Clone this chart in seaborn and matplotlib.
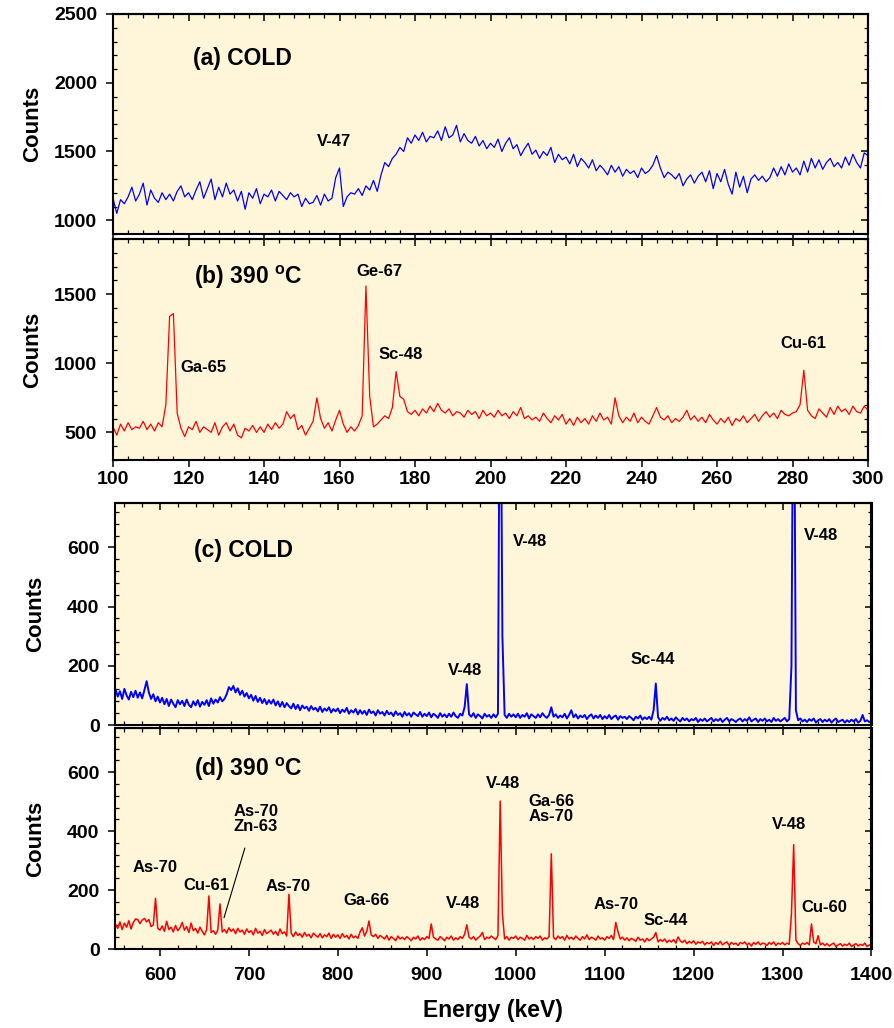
import numpy as np
import matplotlib
matplotlib.use('Agg')
import matplotlib.pyplot as plt
from matplotlib.ticker import MultipleLocator
import seaborn as sns

# canales de energía (keV)
energia_baja = np.arange(100, 300.5, 1.0)
energia_alta = np.arange(550, 1400.5, 2.5)

# (a) COLD, 100-300 keV
cuentas_a = [
    1160, 1050, 1150, 1120, 1170, 1240, 1140, 1190, 1270, 1110,
    1220, 1160, 1130, 1200, 1150, 1190, 1140, 1210, 1250, 1170,
    1200, 1150, 1220, 1280, 1160, 1230, 1300, 1150, 1240, 1170,
    1270, 1190, 1220, 1140, 1210, 1080, 1200, 1160, 1230, 1120,
    1190, 1170, 1220, 1140, 1210, 1180, 1150, 1200, 1170, 1190,
    1100, 1160, 1120, 1130, 1180, 1110, 1190, 1140, 1160, 1310,
    1380, 1100, 1170, 1200, 1190, 1230, 1180, 1250, 1220, 1290,
    1210, 1330, 1420, 1390, 1450, 1480, 1530, 1500, 1600, 1560,
    1620, 1580, 1640, 1570, 1610, 1600, 1650, 1580, 1680, 1600,
    1620, 1690, 1570, 1630, 1580, 1560, 1610, 1540, 1580, 1520,
    1560, 1530, 1590, 1500, 1560, 1600, 1520, 1550, 1470, 1520,
    1560, 1480, 1510, 1450, 1500, 1470, 1530, 1420, 1480, 1440,
    1460, 1410, 1480, 1390, 1450, 1420, 1380, 1440, 1360, 1400,
    1370, 1330, 1400, 1350, 1390, 1320, 1370, 1340, 1360, 1310,
    1380, 1340, 1360, 1400, 1470, 1380, 1310, 1350, 1330, 1300,
    1340, 1250, 1300, 1330, 1270, 1320, 1350, 1280, 1360, 1230,
    1340, 1280, 1370, 1260, 1190, 1350, 1240, 1320, 1200, 1300,
    1330, 1290, 1320, 1280, 1310, 1380, 1320, 1390, 1330, 1410,
    1350, 1380, 1330, 1430, 1350, 1450, 1380, 1440, 1370, 1420,
    1450, 1390, 1420, 1380, 1460, 1400, 1480, 1420, 1380, 1490,
    1470]

# (b) 390 C, 100-300 keV
cuentas_b = [
    540, 480, 560, 510, 570, 520, 540, 530, 580, 520,
    560, 510, 570, 540, 700, 1340, 1360, 640, 530, 470,
    540, 520, 580, 500, 540, 520, 500, 570, 480, 540,
    570, 510, 560, 480, 460, 530, 510, 550, 500, 540,
    500, 560, 520, 570, 530, 560, 650, 600, 630, 520,
    550, 480, 530, 580, 750, 600, 530, 570, 510, 590,
    660, 560, 500, 540, 510, 550, 620, 1560, 760, 540,
    560, 590, 620, 600, 680, 940, 760, 740, 650, 630,
    660, 620, 670, 640, 690, 650, 710, 660, 640, 670,
    620, 650, 640, 610, 660, 630, 650, 600, 660, 620,
    640, 610, 660, 620, 640, 600, 650, 620, 680, 600,
    620, 590, 610, 580, 640, 600, 570, 620, 590, 630,
    560, 600, 550, 610, 570, 600, 560, 620, 580, 640,
    590, 610, 560, 750, 620, 570, 610, 580, 640, 570,
    610, 580, 560, 620, 680, 610, 590, 620, 570, 600,
    580, 610, 660, 590, 620, 580, 610, 570, 630, 590,
    560, 600, 570, 610, 550, 600, 580, 620, 570, 600,
    630, 580, 620, 650, 610, 640, 600, 660, 630, 620,
    640, 650, 700, 950, 660, 620, 600, 670, 640, 610,
    680, 630, 690, 650, 670, 630, 690, 650, 640, 690,
    660]

# (c) COLD, 550-1400 keV
cuentas_c = [
    120, 96, 114, 88, 122, 100, 86, 112, 94, 116,
    92, 110, 90, 118, 148, 110, 88, 104, 80, 96,
    76, 92, 70, 88, 64, 86, 72, 60, 84, 70,
    82, 64, 86, 68, 60, 80, 66, 84, 62, 78,
    68, 84, 64, 90, 72, 86, 76, 94, 80, 88,
    104, 128, 118, 132, 110, 124, 102, 116, 96, 108,
    90, 102, 82, 98, 78, 92, 74, 88, 70, 84,
    72, 86, 66, 80, 62, 78, 60, 74, 64, 56,
    72, 54, 68, 50, 66, 56, 62, 48, 64, 52,
    58, 46, 62, 44, 56, 48, 60, 42, 54, 46,
    56, 40, 52, 44, 58, 38, 50, 42, 54, 36,
    50, 38, 48, 34, 52, 40, 46, 32, 50, 38,
    44, 32, 48, 36, 42, 30, 46, 34, 40, 28,
    44, 32, 40, 28, 42, 36, 30, 44, 28, 38,
    30, 42, 26, 38, 32, 24, 40, 28, 36, 26,
    38, 28, 42, 30, 24, 38, 32, 60, 138, 36,
    28, 40, 24, 36, 30, 22, 38, 28, 34, 24,
    36, 26, 38, 1500, 300, 34, 24, 38, 28, 36,
    26, 38, 24, 34, 28, 40, 22, 36, 30, 24,
    36, 26, 40, 30, 24, 34, 60, 28, 36, 24,
    32, 26, 38, 22, 34, 50, 26, 36, 22, 32,
    26, 34, 20, 30, 36, 22, 32, 24, 34, 20,
    30, 22, 34, 20, 28, 32, 18, 30, 24, 28,
    20, 30, 24, 16, 28, 22, 32, 18, 26, 20,
    28, 18, 50, 140, 26, 14, 24, 18, 28, 16,
    22, 14, 26, 18, 12, 24, 16, 22, 12, 20,
    16, 24, 10, 20, 14, 22, 12, 18, 24, 12,
    20, 14, 22, 10, 18, 24, 12, 20, 16, 10,
    18, 22, 12, 20, 14, 26, 12, 18, 22, 10,
    20, 14, 22, 12, 18, 10, 24, 14, 20, 12,
    18, 24, 12, 20, 200, 1500, 50, 16, 22, 12,
    18, 10, 20, 14, 22, 8, 16, 20, 10, 18,
    12, 20, 8, 16, 22, 10, 14, 18, 8, 16,
    10, 18, 12, 20, 8, 14, 34, 12, 16, 10,
    14]

# (d) 390 C, 550-1400 keV
cuentas_d = [
    84, 70, 92, 66, 88, 74, 96, 68, 90, 102,
    100, 86, 98, 104, 92, 100, 76, 82, 172, 70,
    64, 78, 60, 94, 66, 74, 58, 80, 62, 72,
    90, 64, 76, 56, 88, 62, 70, 54, 74, 60,
    48, 66, 180, 56, 62, 50, 64, 153, 58, 66,
    54, 72, 60, 68, 52, 70, 58, 64, 50, 68,
    56, 62, 48, 70, 54, 60, 46, 66, 52, 58,
    64, 50, 60, 46, 68, 52, 58, 44, 186, 54,
    42, 58, 46, 52, 40, 56, 44, 50, 38, 54,
    46, 40, 52, 38, 48, 42, 54, 36, 50, 40,
    48, 36, 52, 40, 46, 34, 50, 38, 44, 36,
    58, 72, 44, 60, 95, 48, 42, 50, 36, 46,
    40, 34, 46, 30, 42, 36, 28, 44, 34, 40,
    32, 42, 36, 28, 40, 34, 44, 30, 38, 32,
    42, 36, 85, 40, 34, 30, 42, 36, 28, 40,
    34, 44, 30, 38, 32, 42, 36, 50, 82, 40,
    34, 42, 30, 38, 44, 56, 32, 40, 36, 44,
    38, 32, 46, 502, 120, 34, 42, 30, 40, 36,
    44, 32, 40, 36, 30, 46, 34, 40, 32, 42,
    36, 44, 30, 38, 34, 42, 323, 40, 32, 44,
    36, 42, 30, 46, 34, 40, 32, 44, 36, 30,
    42, 34, 48, 32, 40, 36, 30, 44, 34, 38,
    30, 42, 36, 46, 32, 90, 58, 34, 40, 30,
    38, 28, 36, 32, 26, 40, 30, 34, 24, 36,
    28, 34, 40, 56, 24, 32, 26, 34, 22, 30,
    24, 32, 20, 41, 28, 22, 30, 18, 26, 20,
    28, 16, 24, 20, 26, 14, 22, 18, 24, 12,
    22, 16, 26, 14, 20, 24, 12, 22, 16, 20,
    12, 22, 18, 24, 14, 20, 10, 22, 16, 24,
    14, 20, 18, 12, 22, 16, 24, 12, 20, 16,
    22, 14, 20, 16, 120, 354, 30, 18, 12, 20,
    16, 22, 14, 85, 24, 18, 45, 14, 20, 12,
    18, 10, 16, 20, 8, 14, 18, 10, 16, 12,
    20, 8, 14, 18, 10, 16, 12, 20, 8, 14,
    12]

sns.set_style('ticks')
plt.rcParams['font.family'] = ['Liberation Sans', 'DejaVu Sans']
plt.rcParams['font.weight'] = 'bold'
plt.rcParams['axes.labelweight'] = 'bold'
plt.rcParams['mathtext.fontset'] = 'custom'
plt.rcParams['mathtext.rm'] = 'Liberation Sans:bold'
plt.rcParams['mathtext.default'] = 'rm'
for clave in ['text.color', 'axes.labelcolor', 'axes.edgecolor', 'xtick.color', 'ytick.color']:
    plt.rcParams[clave] = 'black'

fondo = '#FFF6DA'

fig = plt.figure(figsize=(8.95, 10.28), dpi=100)
ax_a = fig.add_axes([113 / 895, 1 - 234 / 1028, 755 / 895, 220 / 1028])
ax_b = fig.add_axes([113 / 895, 1 - 460 / 1028, 755 / 895, 221 / 1028])
ax_c = fig.add_axes([115.5 / 895, 1 - 725 / 1028, 756 / 895, 222 / 1028])
ax_d = fig.add_axes([115.5 / 895, 1 - 949 / 1028, 756 / 895, 221 / 1028])


def ejes(ax, xlim, ylim, xmaj, xmin, ymaj, ymin, etiquetas_x, pad_x):
    ax.set_facecolor(fondo)
    ax.set_xlim(xlim)
    ax.set_ylim(ylim)
    ax.xaxis.set_major_locator(MultipleLocator(xmaj))
    ax.xaxis.set_minor_locator(MultipleLocator(xmin))
    ax.yaxis.set_major_locator(MultipleLocator(ymaj))
    ax.yaxis.set_minor_locator(MultipleLocator(ymin))
    ax.tick_params(which='both', top=False, right=False, labelsize=14)
    ax.tick_params(which='major', direction='out', length=5, width=1.1)
    ax.tick_params(which='minor', direction='in', length=3, width=0.9)
    ax.tick_params(axis='y', pad=6.5)
    ax.tick_params(axis='x', pad=pad_x, labelbottom=etiquetas_x)
    for s in ax.spines.values():
        s.set_linewidth(1.5)
    # ticks hacia dentro arriba y a la derecha
    der = ax.secondary_yaxis('right')
    der.yaxis.set_major_locator(MultipleLocator(ymaj))
    der.yaxis.set_minor_locator(MultipleLocator(ymin))
    der.tick_params(which='major', direction='in', length=5, width=1.1, labelright=False)
    der.tick_params(which='minor', direction='in', length=3, width=0.9)
    der.spines['right'].set_linewidth(1.5)
    arr = ax.secondary_xaxis('top')
    arr.xaxis.set_major_locator(MultipleLocator(xmaj))
    arr.xaxis.set_minor_locator(MultipleLocator(xmin))
    arr.tick_params(which='major', direction='in', length=5, width=1.1, labeltop=False)
    arr.tick_params(which='minor', direction='in', length=3, width=0.9)
    arr.spines['top'].set_linewidth(1.5)
    ax.set_xlabel('')
    ax.set_ylabel('Counts', fontsize=16, fontweight='bold')
    ax.yaxis.set_label_coords(-0.092, 0.5)


sns.lineplot(x=energia_baja, y=cuentas_a, ax=ax_a, color='#0000FF', lw=0.9)
sns.lineplot(x=energia_baja, y=cuentas_b, ax=ax_b, color='#FF0000', lw=0.9)
sns.lineplot(x=energia_alta, y=cuentas_c, ax=ax_c, color='#0000FF', lw=1.4)
sns.lineplot(x=energia_alta, y=cuentas_d, ax=ax_d, color='#FF0000', lw=1.1)

ejes(ax_a, (100, 300), (900, 2500), 20, 4, 500, 100, False, 3)
ejes(ax_b, (100, 300), (300, 1900), 20, 4, 500, 100, True, 3)
ejes(ax_c, (550, 1400), (0, 750), 100, 20, 200, 40, False, 3)
ejes(ax_d, (550, 1400), (0, 750), 100, 20, 200, 40, True, 8)

t = dict(fontsize=16.5, fontweight='bold', ha='left', va='baseline')
e = dict(fontsize=12, fontweight='bold', ha='center', va='baseline')

ax_a.text(121.3, 2132, '(a) COLD', **t)
ax_a.text(158.5, 1538, 'V-47', **e)

ax_b.text(121.5, 1572, '(b) 390 $^{o}$C', **t)
ax_b.text(170.7, 1633, 'Ge-67', **e)
ax_b.text(124.0, 937, 'Ga-65', **e)
ax_b.text(176.1, 1034, 'Sc-48', **e)
ax_b.text(282.9, 1109, 'Cu-61', **e)

ax_c.text(638.7, 568, '(c) COLD', **t)
ax_c.text(943.5, 169, 'V-48', **e)
ax_c.text(1016.3, 604, 'V-48', **e)
ax_c.text(1154, 206, 'Sc-44', **e)
ax_c.text(1343, 625, 'V-48', **e)

ax_d.text(638.3, 587, '(d) 390 $^{o}$C', **t)
ax_d.text(594.8, 260, 'As-70', **e)
ax_d.text(652.2, 199, 'Cu-61', **e)
ax_d.annotate('As-70\nZn-63', xy=(672, 106), xytext=(707.7, 400),
              linespacing=1.0, arrowprops=dict(arrowstyle='-', lw=0.8, color='black',
                                               relpos=(0.35, 0), shrinkA=8, shrinkB=0), **e)
ax_d.text(743.7, 198, 'As-70', **e)
ax_d.text(832.2, 150, 'Ga-66', **e)
ax_d.text(941.2, 139, 'V-48', **e)
ax_d.text(985.3, 548, 'V-48', **e)
ax_d.text(1039.7, 434, 'Ga-66\nAs-70', linespacing=1.0, **e)
ax_d.text(1113, 136, 'As-70', **e)
ax_d.text(1169, 80, 'Sc-44', **e)
ax_d.text(1307.4, 408, 'V-48', **e)
ax_d.text(1346.6, 124, 'Cu-60', **e)

fig.text(493 / 895, 1 - 1010 / 1028, 'Energy (keV)', ha='center', va='center',
         fontsize=16.5, fontweight='bold')

fig.savefig('out.png', dpi=100)
